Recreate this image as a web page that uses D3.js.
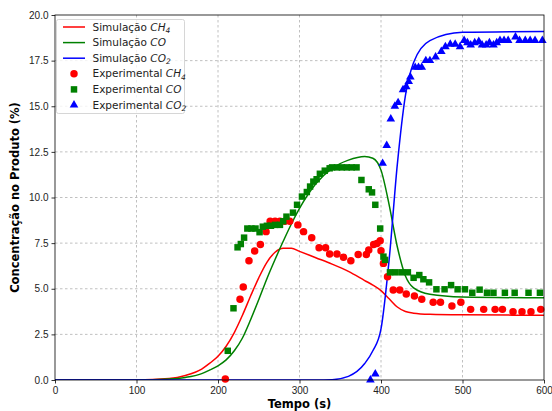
<!DOCTYPE html>
<html>
<head>
<meta charset="utf-8">
<script src="https://cdn.jsdelivr.net/npm/d3@7"></script>
<style>
  body { margin: 0; background: #fff; }
  svg { font-family: "DejaVu Sans", sans-serif; }
  .grid line { stroke: #b0b0b0; stroke-dasharray: 2.5,2.5; stroke-width: 0.8; }
  .axis text { font-size: 10px; fill: #222; }
  .axis path, .axis line { stroke: #000; stroke-width: 0.8; }
</style>
</head>
<body>
<svg id="chart" width="552" height="411"></svg>
<script>
// simulation curves (time s, concentration %)
var simT   = [0, 100, 140, 160, 180, 190, 200, 210, 220, 230, 240, 250, 260, 270, 280, 290, 300, 320, 340, 360, 380, 390, 400, 410, 420, 430, 440, 460, 500, 600];
var simCH4 = [0, 0, 0.08, 0.25, 0.6, 0.92, 1.3, 1.85, 2.6, 3.55, 4.6, 5.6, 6.45, 7.0, 7.22, 7.22, 7.05, 6.7, 6.35, 5.95, 5.45, 5.2, 4.9, 4.45, 4.0, 3.75, 3.66, 3.6, 3.57, 3.55];
var simCO  = [0, 0, 0.05, 0.14, 0.35, 0.55, 0.78, 1.1, 1.6, 2.3, 3.3, 4.4, 5.55, 6.6, 7.6, 8.55, 9.4, 10.75, 11.6, 12.05, 12.25, 12.15, 11.5, 9.6, 7.3, 5.7, 5.05, 4.7, 4.55, 4.5];
var simCO2 = [0, 0, 0, 0, 0, 0, 0, 0, 0, 0, 0, 0, 0, 0, 0, 0, 0, 0, 0.02, 0.2, 0.9, 1.6, 2.8, 6.6, 11.8, 15.6, 17.4, 18.6, 19.05, 19.1];

// experimental CH4
var expCH4T = [209, 227, 231, 238, 245, 252, 259, 264, 270, 276, 282, 288, 298, 305, 315, 324, 332, 337, 346, 354, 363, 372, 382, 385, 391, 395, 399, 400, 403, 408, 415, 423, 431, 441, 450, 464, 473, 487, 498, 510, 526, 540, 549, 562, 573, 584, 596];
var expCH4V = [0.05, 4.42, 5.1, 6.54, 7.07, 7.43, 8.13, 8.7, 8.7, 8.7, 8.7, 8.7, 8.5, 8.13, 7.8, 7.25, 7.25, 6.9, 6.9, 6.72, 6.54, 6.88, 6.88, 7.12, 7.43, 7.48, 7.63, 7.08, 6.39, 5.66, 4.93, 4.93, 4.71, 4.6, 4.42, 4.26, 4.26, 4.05, 4.26, 3.87, 3.87, 3.87, 3.87, 3.74, 3.74, 3.74, 3.87];

// experimental CO
var expCOT = [212, 219, 224, 228, 232, 236, 241, 246, 251, 255, 260, 265, 270, 276, 280, 284, 292, 297, 303, 309, 313, 317, 321, 325, 331, 337, 340, 346, 352, 358, 364, 370, 376, 385, 389, 393, 399, 403, 405, 411, 418, 426, 433, 440, 447, 452, 459, 468, 478, 486, 494, 503, 512, 521, 530, 538, 552, 564, 581, 595];
var expCOV = [1.6, 3.93, 7.27, 7.45, 7.8, 8.3, 8.3, 8.3, 8.1, 8.4, 8.45, 8.45, 8.5, 8.5, 8.7, 8.95, 9.17, 9.6, 10.05, 10.3, 10.6, 10.87, 11.0, 11.3, 11.47, 11.6, 11.65, 11.65, 11.65, 11.65, 11.65, 11.65, 10.96, 10.45, 10.28, 9.6, 8.3, 6.76, 6.58, 5.9, 5.9, 5.9, 5.9, 5.6, 5.75, 5.52, 5.35, 4.97, 4.97, 5.2, 4.97, 4.97, 4.78, 4.95, 4.78, 4.78, 4.78, 4.78, 4.78, 4.78];

// experimental CO2
var expCO2T = [387, 393, 402, 407, 412, 417, 421, 427, 431, 434, 436, 442, 446, 450, 455, 460, 467, 474, 479, 485, 491, 497, 502, 506, 510, 515, 520, 524, 529, 533, 538, 542, 546, 551, 556, 565, 570, 577, 583, 589, 598];
var expCO2V = [0.0, 0.33, 11.87, 12.85, 14.3, 15.0, 15.2, 15.9, 16.07, 16.35, 16.6, 17.13, 17.13, 17.13, 17.5, 17.5, 17.7, 18.0, 18.26, 18.4, 18.4, 18.26, 18.6, 18.48, 18.36, 18.48, 18.55, 18.36, 18.36, 18.48, 18.36, 18.48, 18.6, 18.6, 18.6, 18.8, 18.6, 18.6, 18.6, 18.6, 18.6];

var xTicks = [0, 100, 200, 300, 400, 500, 600];
var yTicks = [0, 2.5, 5, 7.5, 10, 12.5, 15, 17.5, 20];

var svg = d3.select("#chart");
var x = d3.scaleLinear().domain([0, 600]).range([55, 544]);
var y = d3.scaleLinear().domain([0, 20]).range([380, 15]);

svg.append("defs").append("clipPath").attr("id", "clip")
    .append("rect").attr("x", 55).attr("y", 15).attr("width", 489).attr("height", 365);

// grid
var grid = svg.append("g").attr("class", "grid");
grid.selectAll(".gx").data(xTicks.slice(1, -1)).enter().append("line")
    .attr("x1", d => x(d)).attr("x2", d => x(d)).attr("y1", 15).attr("y2", 380);
grid.selectAll(".gy").data(yTicks.slice(1, -1)).enter().append("line")
    .attr("x1", 55).attr("x2", 544).attr("y1", d => y(d)).attr("y2", d => y(d));

// simulation lines
function simLine(vals) {
    return d3.line().x((d, i) => x(simT[i])).y(d => y(d)).curve(d3.curveMonotoneX)(vals);
}
var plot = svg.append("g").attr("clip-path", "url(#clip)");
plot.append("path").attr("d", simLine(simCH4)).attr("fill", "none").attr("stroke", "red").attr("stroke-width", 1.5);
plot.append("path").attr("d", simLine(simCO)).attr("fill", "none").attr("stroke", "green").attr("stroke-width", 1.5);
plot.append("path").attr("d", simLine(simCO2)).attr("fill", "none").attr("stroke", "blue").attr("stroke-width", 1.5);

// experimental markers
var circ = d3.symbol().type(d3.symbolCircle).size(44);
var sq = d3.symbol().type(d3.symbolSquare).size(42);
var tri = d3.symbol().type(d3.symbolTriangle).size(32);

svg.append("g").selectAll("path").data(expCH4T).enter().append("path")
    .attr("d", circ).attr("fill", "red")
    .attr("transform", (d, i) => "translate(" + x(d) + "," + y(expCH4V[i]) + ")");
svg.append("g").selectAll("path").data(expCOT).enter().append("path")
    .attr("d", sq).attr("fill", "green")
    .attr("transform", (d, i) => "translate(" + x(d) + "," + y(expCOV[i]) + ")");
svg.append("g").selectAll("path").data(expCO2T).enter().append("path")
    .attr("d", tri).attr("fill", "blue")
    .attr("transform", (d, i) => "translate(" + x(d) + "," + y(expCO2V[i]) + ")");

// axes
svg.append("g").attr("class", "axis").attr("transform", "translate(0,380)")
    .call(d3.axisBottom(x).tickValues(xTicks).tickSize(3.5).tickPadding(3).tickFormat(d3.format("d")))
    .call(g => g.select(".domain").remove());
svg.append("g").attr("class", "axis").attr("transform", "translate(55,0)")
    .call(d3.axisLeft(y).tickValues(yTicks).tickSize(3.5).tickPadding(3).tickFormat(d3.format(".1f")))
    .call(g => g.select(".domain").remove());

// frame
svg.append("rect").attr("x", 55).attr("y", 15).attr("width", 489).attr("height", 365)
    .attr("fill", "none").attr("stroke", "#000").attr("stroke-width", 0.8);

// axis labels
svg.append("text").attr("x", 299.5).attr("y", 408).attr("text-anchor", "middle")
    .attr("font-size", "11.5px").attr("font-weight", "bold").text("Tempo (s)");
svg.append("text").attr("transform", "translate(19,197.5) rotate(-90)").attr("text-anchor", "middle")
    .attr("font-size", "11.5px").attr("font-weight", "bold").text("Concentração no Produto (%)");

// legend
var legend = svg.append("g");
legend.append("rect").attr("x", 56.5).attr("y", 19.5).attr("width", 128).attr("height", 94).attr("rx", 2)
    .attr("fill", "#fff").attr("fill-opacity", 0.8).attr("stroke", "#ccc").attr("stroke-width", 0.8);

var legNames = ["Simulação ", "Simulação ", "Simulação ", "Experimental ", "Experimental ", "Experimental "];
var legSpecies = [["CH", "4"], ["CO", ""], ["CO", "2"], ["CH", "4"], ["CO", ""], ["CO", "2"]];
var legColors = ["red", "green", "blue", "red", "green", "blue"];
var legSyms = [null, null, null, circ, sq, tri];

legNames.forEach(function(name, i) {
    var ly = 27 + i * 15.6;
    if (legSyms[i] === null) {
        legend.append("line").attr("x1", 63).attr("x2", 85).attr("y1", ly).attr("y2", ly)
            .attr("stroke", legColors[i]).attr("stroke-width", 1.5);
    } else {
        legend.append("path").attr("d", legSyms[i]).attr("fill", legColors[i])
            .attr("transform", "translate(74," + ly + ")");
    }
    var t = legend.append("text").attr("x", 92.5).attr("y", ly + 3.5).attr("font-size", "10.5px").attr("fill", "#222");
    t.append("tspan").text(name);
    t.append("tspan").attr("font-style", "italic").text(legSpecies[i][0]);
    if (legSpecies[i][1]) {
        t.append("tspan").attr("font-style", "italic").attr("font-size", "7.5px").attr("dy", 2.5).text(legSpecies[i][1]);
    }
});
</script>
</body>
</html>
